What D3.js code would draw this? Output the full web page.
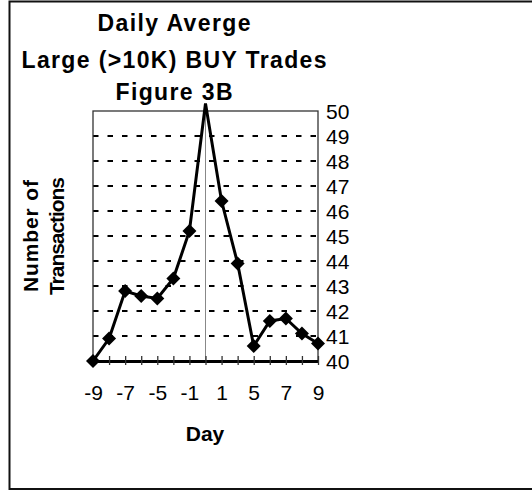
<!DOCTYPE html>
<meta charset="utf-8">
<script src="https://d3js.org/d3.v7.min.js"></script>
<style>
    body { margin: 0; background: #fff; }
    text { font-family: "Liberation Sans", Arial, sans-serif; fill: #000; }
</style>
<div id="chart"></div>

<script>

    // data
    const days = ["-9", "-8", "-7", "-6", "-5", "-3", "-1", "0", "1", "3", "5", "6", "7", "8", "9"];
    const trades = [40.0, 40.9, 42.8, 42.6, 42.5, 43.3, 45.2, 50.3, 46.4, 43.9, 40.6, 41.6, 41.7, 41.1, 40.7];
    const dayTicks = ["-9", "-7", "-5", "-1", "1", "5", "7", "9"];
    const countTicks = [40, 41, 42, 43, 44, 45, 46, 47, 48, 49, 50];
    const titleLines = ["Daily Averge", "Large (>10K) BUY Trades", "Figure 3B"];

    const W = 532, H = 491;
    const plot = {left: 93, right: 318, top: 111, bottom: 361};

    const svg = d3.select("#chart")
        .append("svg")
        .attr("width", W)
        .attr("height", H);

    // outer frame (top, left, bottom edges are visible)
    svg.append("path")
        .attr("d", `M${W},1.5 H9.5 V489 H${W}`)
        .attr("fill", "none")
        .attr("stroke", "#111")
        .attr("stroke-width", 2);

    const x = d3.scalePoint()
        .domain(days)
        .range([plot.left, plot.right]);

    const y = d3.scaleLinear()
        .domain([40, 50])
        .range([plot.bottom, plot.top]);

    // dashed horizontal grid
    svg.append("g")
        .selectAll("line")
        .data(countTicks.filter(d => d > 40 && d < 50))
        .join("line")
        .attr("x1", plot.left)
        .attr("x2", plot.right)
        .attr("y1", d => y(d))
        .attr("y2", d => y(d))
        .attr("stroke", "#000")
        .attr("stroke-width", 1.8)
        .attr("stroke-dasharray", "5.5,9");

    // light vertical line at day 0
    svg.append("line")
        .attr("x1", x("0"))
        .attr("x2", x("0"))
        .attr("y1", plot.top)
        .attr("y2", plot.bottom)
        .attr("stroke", "#888")
        .attr("stroke-width", 1);

    // plot border
    svg.append("rect")
        .attr("x", plot.left)
        .attr("y", plot.top)
        .attr("width", plot.right - plot.left)
        .attr("height", plot.bottom - plot.top)
        .attr("fill", "none")
        .attr("stroke", "#333")
        .attr("stroke-width", 1.3);

    // x axis
    const xAxis = svg.append("g")
        .attr("transform", `translate(0, ${plot.bottom})`)
        .call(d3.axisBottom(x).tickSize(4).tickSizeOuter(0).tickFormat(d => dayTicks.includes(d) ? d : ""));
    xAxis.select(".domain")
        .attr("stroke", "#000")
        .attr("stroke-width", 2.8);
    xAxis.selectAll(".tick line")
        .attr("y1", -5)
        .attr("stroke", "#333")
        .attr("stroke-width", 1.3);
    xAxis.selectAll(".tick text")
        .attr("y", 39)
        .attr("dy", 0)
        .style("font-size", "21px")
        .style("font-family", "'Liberation Sans', Arial, sans-serif");

    // y axis labels on the right
    svg.append("g")
        .selectAll("text")
        .data(countTicks)
        .join("text")
        .attr("x", plot.right + 8)
        .attr("y", d => y(d))
        .attr("dy", "0.36em")
        .style("font-size", "21px")
        .text(d => d);

    // series line
    const line = d3.line()
        .x((d, i) => x(days[i]))
        .y(d => y(d));

    svg.append("path")
        .datum(trades)
        .attr("d", line)
        .attr("fill", "none")
        .attr("stroke", "#000")
        .attr("stroke-width", 3);

    // diamond markers (points beyond the axis max are not drawn)
    const r = 7;
    svg.append("g")
        .selectAll("path")
        .data(trades.map((v, i) => ({day: days[i], v})).filter(d => d.v <= 50))
        .join("path")
        .attr("transform", d => `translate(${x(d.day)}, ${y(d.v)})`)
        .attr("d", `M0,${-r}L${r},0L0,${r}L${-r},0Z`)
        .attr("fill", "#000");

    // titles
    const titleY = [31, 68, 100];
    const titleW = [153, 305, 117];
    svg.append("g")
        .selectAll("text")
        .data(titleLines)
        .join("text")
        .attr("x", 174)
        .attr("y", (d, i) => titleY[i])
        .attr("text-anchor", "middle")
        .attr("textLength", (d, i) => titleW[i])
        .attr("lengthAdjust", "spacing")
        .style("font-size", "23px")
        .style("font-weight", "bold")
        .text(d => d);

    // y title
    const yTitle = svg.append("text")
        .attr("transform", "translate(0, 236) rotate(-90)")
        .attr("text-anchor", "middle")
        .style("font-size", "21px")
        .style("font-weight", "bold");
    yTitle.append("tspan").attr("x", 0).attr("y", 38).attr("textLength", 112).attr("lengthAdjust", "spacing").text("Number of");
    yTitle.append("tspan").attr("x", 0).attr("y", 64).attr("textLength", 118).attr("lengthAdjust", "spacing").text("Transactions");

    // x title
    svg.append("text")
        .attr("x", 205)
        .attr("y", 441)
        .attr("text-anchor", "middle")
        .style("font-size", "21px")
        .style("font-weight", "bold")
        .text("Day");

</script>
